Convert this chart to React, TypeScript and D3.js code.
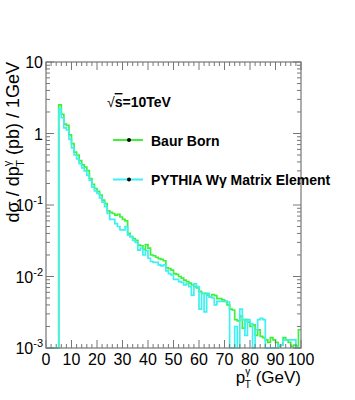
import React, { useEffect, useRef } from 'react';
import * as d3 from 'd3';

// 1 GeV bins, first filled bin starts at 5 GeV (bins 0-4 are empty)
const firstBin = 5;

const baurBorn = [
  2.51, 1.86, 1.35, 1.30, 0.955, 0.724, 0.55, 0.50, 0.417, 0.363,
  0.339, 0.302, 0.234, 0.195, 0.170, 0.155, 0.138, 0.117, 0.105, 0.083,
  0.079, 0.076, 0.072, 0.074, 0.068, 0.063, 0.060, 0.040, 0.036, 0.034,
  0.032, 0.0275, 0.0269, 0.024, 0.028, 0.025, 0.020, 0.0195, 0.0186, 0.0178,
  0.0174, 0.0166, 0.0132, 0.0129, 0.0123, 0.011, 0.0107, 0.0100, 0.0095, 0.0089,
  0.0085, 0.0081, 0.0076, 0.0072, 0.0069, 0.0062, 0.0058, 0.0058, 0.0055, 0.0052,
  0.0056, 0.0054, 0.0049, 0.0049, 0.0047, 0.0045, 0.0040, 0.0035, 0.0034, 0.0025,
  0.0024, 0.0028, 0.0019, 0.0025, 0.0023, 0.0020, 0.0021, 0.0015, 0.0018, 0.00145,
  0.0014, 0.0013, 0.0012, 0.0014, 0.0013, 0.0012, 0.00105, 0.0011, 0.0014, 0.0013,
  0.0012, 0.00105, 0.0011, 0.00107, 0.0018,
];

const pythiaME = [
  2.19, 1.66, 1.20, 1.12, 0.83, 0.63, 0.50, 0.44, 0.38, 0.33,
  0.30, 0.26, 0.22, 0.178, 0.158, 0.145, 0.126, 0.110, 0.095, 0.076,
  0.063, 0.063, 0.055, 0.050, 0.045, 0.045, 0.050, 0.038, 0.036, 0.032,
  0.030, 0.0234, 0.025, 0.020, 0.023, 0.018, 0.0162, 0.0158, 0.0158, 0.0145,
  0.0141, 0.0145, 0.012, 0.011, 0.0105, 0.0091, 0.0091, 0.0085, 0.0083, 0.0076,
  0.0079, 0.0072, 0.0055, 0.0079, 0.0072, 0.0035, 0.0058, 0.0032, 0.0058, 0.0052,
  0.0050, 0.0040, 0.0045, 0.0045, 0.0045, 0.0045, 0.0044, 0, 0, 0.0020,
  0, 0.0035, 0.0025, 0.0015, 0.0025, 0.0022, 0, 0.0018, 0.0025, 0.0026,
  0.0025, 0, 0, 0, 0, 0, 0.0011, 0.0011, 0.0013, 0.0013,
  0.0013, 0.0013, 0.0013, 0, 0,
];

const xTickLabels = [0, 10, 20, 30, 40, 50, 60, 70, 80, 90, 100];
const yDecades = [1e-3, 1e-2, 1e-1, 1, 10];
const yTickLabels: [string, string][] = [['10', '-3'], ['10', '-2'], ['10', '-1'], ['1', ''], ['10', '']];

const legendItems = [
  { label: 'Baur Born', color: '#3ef03a' },
  { label: 'PYTHIA W\u03b3 Matrix Element', color: '#3ff0f0' },
];

const App = () => {
  const svgRef = useRef<SVGSVGElement>(null);

  useEffect(() => {
    const svg = d3.select(svgRef.current);
    svg.selectAll('*').remove();

    const width = 355;
    const height = 400;
    const margin = { top: 62, right: 54, bottom: 52, left: 46 };
    const font = 'Liberation Sans, Arial, Helvetica, sans-serif';
    const axisColor = '#777';

    const x = d3.scaleLinear().domain([0, 100]).range([margin.left, width - margin.right]);
    const y = d3.scaleLog().domain([1e-3, 10]).range([height - margin.bottom, margin.top]).clamp(true);
    const x0 = x.range()[0], x1 = x.range()[1];
    const y0 = y.range()[0], y1 = y.range()[1];

    svg.append('rect').attr('width', width).attr('height', height).attr('fill', '#fff');

    // histograms
    const histPoints = (vals: number[]) => {
      const pts: [number, number][] = d3.range(0, 100).map(i => [i, i < firstBin ? 0 : vals[i - firstBin]]);
      pts.push([100, vals[vals.length - 1]]);
      return pts;
    };
    const line = d3.line<[number, number]>()
      .x(d => x(d[0]))
      .y(d => y(Math.max(d[1], 1e-5)))
      .curve(d3.curveStepAfter);

    [baurBorn, pythiaME].forEach((vals, i) => {
      svg.append('path')
        .attr('d', line(histPoints(vals)))
        .attr('fill', 'none')
        .attr('stroke', legendItems[i].color)
        .attr('stroke-width', 1.7);
    });

    // frame
    svg.append('rect')
      .attr('x', x0).attr('y', y1)
      .attr('width', x1 - x0).attr('height', y0 - y1)
      .attr('fill', 'none').attr('stroke', axisColor).attr('stroke-width', 1.2);

    const ticks = svg.append('g').attr('stroke', axisColor).attr('stroke-width', 1);

    // x ticks (bottom + top)
    d3.range(0, 101, 2).forEach(v => {
      const len = v % 10 === 0 ? 8 : 4;
      ticks.append('line').attr('x1', x(v)).attr('x2', x(v)).attr('y1', y0).attr('y2', y0 - len);
      ticks.append('line').attr('x1', x(v)).attr('x2', x(v)).attr('y1', y1).attr('y2', y1 + len);
    });

    // y ticks (left + right), log minor ticks
    yDecades.forEach(d => {
      [1, 2, 3, 4, 5, 6, 7, 8, 9].forEach(k => {
        const v = d * k;
        if (v > 10) return;
        const len = k === 1 ? 8 : 4;
        ticks.append('line').attr('x1', x0).attr('x2', x0 + len).attr('y1', y(v)).attr('y2', y(v));
        ticks.append('line').attr('x1', x1).attr('x2', x1 - len).attr('y1', y(v)).attr('y2', y(v));
      });
    });

    // x tick labels
    svg.append('g')
      .selectAll('text')
      .data(xTickLabels)
      .join('text')
      .attr('x', d => x(d))
      .attr('y', y0 + 17)
      .attr('text-anchor', 'middle')
      .attr('font-family', font)
      .attr('font-size', 16)
      .text(d => String(d));

    // y tick labels
    const yl = svg.append('g')
      .selectAll('text')
      .data(yDecades)
      .join('text')
      .attr('x', x0 - 3)
      .attr('y', d => y(d) + 6)
      .attr('text-anchor', 'end')
      .attr('font-family', font)
      .attr('font-size', 16);
    yl.each(function (d, i) {
      const [base, exp] = yTickLabels[i];
      const t = d3.select(this);
      t.append('tspan').text(base);
      if (exp) t.append('tspan').attr('dy', -7).attr('font-size', 11).text(exp);
    });

    // axis titles
    const xt = svg.append('text')
      .attr('x', x1)
      .attr('y', 383)
      .attr('text-anchor', 'end')
      .attr('font-family', font)
      .attr('font-size', 17);
    xt.append('tspan').text('p');
    xt.append('tspan').attr('dy', -8).attr('font-size', 10).text('\u03b3');
    xt.append('tspan').attr('dx', -5.5).attr('dy', 13).attr('font-size', 10).text('T');
    xt.append('tspan').attr('dy', -5).text(' (GeV)');

    const yt = svg.append('text')
      .attr('transform', `translate(19,${y1}) rotate(-90)`)
      .attr('text-anchor', 'end')
      .attr('font-family', font)
      .attr('font-size', 18);
    yt.append('tspan').text('d\u03c3 / dp');
    yt.append('tspan').attr('dy', -8).attr('font-size', 11).text('\u03b3');
    yt.append('tspan').attr('dx', -6).attr('dy', 13).attr('font-size', 11).text('T');
    yt.append('tspan').attr('dy', -5).text(' (pb) / 1GeV');

    // legend
    const rs = svg.append('text')
      .attr('x', 107)
      .attr('y', 107)
      .attr('font-family', font)
      .attr('font-size', 14)
      .attr('font-weight', 'bold');
    rs.append('tspan').attr('font-weight', 'normal').text('\u221a');
    rs.append('tspan').attr('text-decoration', 'overline').text('s');
    rs.append('tspan').text('=10TeV');

    const leg = svg.append('g')
      .selectAll('g')
      .data(legendItems)
      .join('g')
      .attr('transform', (d, i) => `translate(0,${140 + i * 39.5})`);
    leg.append('line')
      .attr('x1', 113).attr('x2', 143)
      .attr('stroke', d => d.color)
      .attr('stroke-width', 2);
    leg.append('circle').attr('cx', 129).attr('r', 2).attr('fill', '#000');
    leg.append('text')
      .attr('x', 151)
      .attr('y', 5.5)
      .attr('font-family', font)
      .attr('font-size', 14)
      .attr('font-weight', 'bold')
      .text(d => d.label);
  }, []);

  return (
    <svg ref={svgRef} width={355} height={400} style={{ position: 'absolute', left: 0, top: 0 }}></svg>
  );
};

export default App;
